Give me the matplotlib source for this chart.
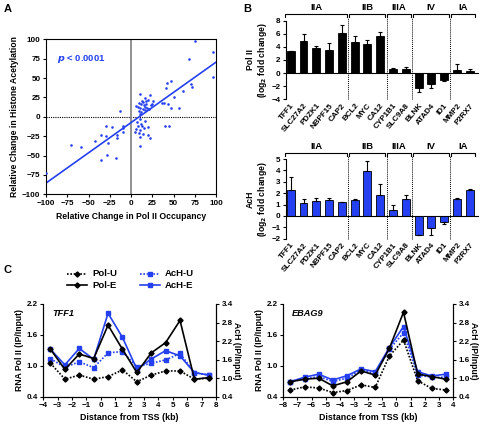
import matplotlib
matplotlib.use("Agg")
import matplotlib.pyplot as plt
import matplotlib.transforms as mtransforms
import numpy as np

plt.rcParams["font.family"] = ["Liberation Sans", "DejaVu Sans"]
plt.rcParams["font.weight"] = "bold"
plt.rcParams["axes.labelweight"] = "bold"
plt.rcParams["mathtext.default"] = "bf"

BLUE = "#2440f0"
W, H = 480, 424

# ---- panel A data: relative change (%) ----
polii_change = [75, 96, 97, 68, 70, 72, 61, 51, 42, 47, 41, 37, 39, 43, 47, 56, 40, 45,
                10, 16, 22, 13, 18, 20, 9, 12, 15, 17, 8, 11, 14, 19, 23, 25, 9, 12, 16, 21, 26, 6, 14, 18, 10,
                10, 7, 12, 8, 13, 6, 10, 15, 20, 9, 14, 20, 22, 11, 5, 16, 11,
                -13, -100, -71, -59, -42, -35, -29, -27, -30, -22, -17, -16, -10, -9, -9, -35, -28, -18]
ach_change = [98, 83, 51, 75, 42, 39, 33, 25, 44, 46, 37, 18, 18, 17, 12, 12, -12, -12,
              29, 24, 28, 21, 20, 22, 18, 16, 15, 13, 13, 11, 10, 12, 15, 17, 8, 6, 9, 10, 20, 14, 19, 16, 3,
              -3, -7, -9, -12, -12, -16, -17, -15, -13, -21, -22, -23, -27, -38, -20, -6, -26,
              8, -73, -37, -39, -31, -23, -25, -34, -12, -13, -24, -27, -12, -15, -20, -56, -49, -53]
fit_slope = 0.78
fit_intercept = -7.5

# ---- panel B data: log2 fold change ----
genes = ["TFF1", "SLC27A2", "PDZK1", "NBPF15", "CAP2", "BCL2", "MYC", "CA12",
         "CYP1B1", "SLC9A8", "BLNK", "ATAD4", "ID1", "MMP2", "P2RX7"]
groups = ["IIA", "IIB", "IIIA", "IV", "IA"]
group_sizes = [5, 3, 2, 3, 2]
pol_fc = [3.3, 4.9, 3.8, 3.6, 6.1, 4.8, 4.5, 5.7, 0.6, 0.7, -2.3, -1.7, -1.1, 0.5, 0.3]
pol_err = [0.1, 1.0, 0.3, 1.0, 1.3, 0.9, 0.5, 0.6, 0.15, 0.2, 0.6, 0.5, 0.1, 0.9, 0.25]
ach_fc = [2.3, 1.1, 1.35, 1.4, 1.2, 1.4, 3.95, 1.8, 0.55, 1.5, -1.65, -1.1, -0.55, 1.45, 2.3]
ach_err = [1.1, 0.35, 0.25, 0.2, 0.05, 0.1, 0.85, 1.0, 0.4, 0.35, 0.05, 0.6, 0.15, 0.1, 0.05]

# ---- panel C data: IP/Input along the gene ----
tff1_kb = [-3.5, -2.5, -1.5, -0.5, 0.5, 1.5, 2.5, 3.5, 4.5, 5.5, 6.5, 7.5]
tff1_pol_u = [1.05, 0.74, 0.82, 0.74, 0.79, 0.92, 0.69, 0.82, 0.90, 0.90, 0.74, 0.76]
tff1_pol_e = [1.32, 0.93, 1.23, 1.14, 1.79, 1.32, 0.87, 1.25, 1.45, 1.88, 0.74, 0.77]
tff1_ach_u = [1.63, 1.35, 1.53, 1.34, 1.82, 1.86, 1.37, 1.48, 1.59, 1.80, 1.18, 1.10]
tff1_ach_e = [1.93, 1.43, 1.96, 1.61, 3.10, 2.32, 1.29, 1.62, 1.89, 1.72, 1.18, 1.10]

ebag9_kb = [-7.5, -6.5, -5.5, -4.5, -3.5, -2.5, -1.5, -0.5, 0.5, 1.5, 2.5, 3.5]
ebag9_pol_u = [0.53, 0.59, 0.57, 0.48, 0.52, 0.63, 0.58, 1.19, 1.50, 0.71, 0.56, 0.53]
ebag9_pol_e = [0.69, 0.74, 0.76, 0.61, 0.69, 0.90, 0.82, 1.34, 2.04, 0.84, 0.79, 0.74]
ebag9_ach_u = [0.89, 0.97, 1.05, 0.89, 1.00, 1.26, 1.16, 1.93, 2.47, 1.10, 1.03, 1.03]
ebag9_ach_e = [0.89, 1.03, 1.13, 0.94, 1.08, 1.30, 1.21, 1.99, 2.67, 1.21, 1.07, 1.13]

FS = 5.8


def ax_px(fig, left, top, right, bottom):
    return fig.add_axes([left / W, 1 - bottom / H, (right - left) / W, (bottom - top) / H])


def style_ticks(ax):
    ax.tick_params(labelsize=FS, width=0.8, length=2.5, pad=1.5)
    for lab in ax.get_xticklabels() + ax.get_yticklabels():
        lab.set_fontweight("bold")


fig = plt.figure(figsize=(W / 100, H / 100), dpi=100)

# ================= Panel A =================
axA = ax_px(fig, 46, 39.3, 216, 194.3)
axA.scatter(polii_change, ach_change, s=3.5, color=BLUE, linewidths=0, zorder=3)
xs = np.array([-100, 100])
axA.plot(xs, fit_slope * xs + fit_intercept, color=BLUE, lw=1.2, zorder=2)
axA.axhline(0, color="black", lw=0.8, ls=(0, (1, 1)), zorder=1)
axA.axvline(0, color="#888888", lw=1.3, zorder=1)
axA.set_xlim(-100, 100)
axA.set_ylim(-100, 100)
axA.set_xticks(np.arange(-100, 101, 25))
axA.set_yticks(np.arange(-100, 101, 25))
for s in axA.spines.values():
    s.set_linewidth(0.8)
style_ticks(axA)
axA.set_xlabel("Relative Change in Pol II Occupancy", fontsize=FS + 0.4, labelpad=4)
axA.set_ylabel("Relative Change in Histone Acetylation", fontsize=FS + 0.4, labelpad=2)
axA.text(-87, 75, r"$\mathbf{\it{p}}$ < 0.0001", color=BLUE, fontsize=FS + 1, va="center",
         fontweight="bold")
fig.text(4 / W, 1 - 9 / H, "A", fontsize=8, fontweight="bold", va="center")

# ================= Panel B =================
x = np.arange(len(genes))
bounds = np.cumsum([0] + group_sizes)


def bar_panel(ax, vals, errs, color, ylim, yticks, ylab, br_y, br_tick, lab_y):
    lower = [e if v < 0 else 0 for v, e in zip(vals, errs)]
    upper = [e if v >= 0 else 0 for v, e in zip(vals, errs)]
    ax.bar(x, vals, width=0.62, color=color, edgecolor="black", linewidth=0.6,
           yerr=[lower, upper], error_kw=dict(ecolor="black", elinewidth=0.8, capsize=1.6,
                                              capthick=0.8), zorder=2)
    ax.axhline(0, color="black", lw=0.8, zorder=3)
    ax.set_xlim(-0.37, 14.73)
    ax.set_ylim(*ylim)
    ax.set_yticks(yticks)
    ax.set_xticks(x)
    ax.set_xticklabels(genes, rotation=50, ha="right", rotation_mode="anchor", fontsize=FS - 0.3)
    for side in ["top", "right", "bottom"]:
        ax.spines[side].set_visible(False)
    ax.spines["left"].set_linewidth(0.8)
    style_ticks(ax)
    ax.tick_params(axis="x", length=0, pad=2)
    ax.set_ylabel(ylab, fontsize=FS + 0.4, labelpad=2, linespacing=1.1)
    trans = mtransforms.blended_transform_factory(ax.transData, ax.transAxes)
    for b in bounds[1:-1]:
        ax.plot([b - 0.5, b - 0.5], [0, 1.04], transform=trans, color="black", lw=0.7,
                ls=(0, (1, 1)), clip_on=False, zorder=1)
    for g, a0, a1 in zip(groups, bounds[:-1], bounds[1:]):
        left, right = a0 - 0.45, a1 - 1 + 0.4
        ax.plot([left, left, right, right], [br_tick, br_y, br_y, br_tick], transform=trans,
                color="black", lw=0.8, clip_on=False)
        ax.text((left + right) / 2, lab_y, g, transform=trans, ha="center", va="center",
                fontsize=FS + 1, fontweight="bold")


axB1 = ax_px(fig, 286, 20.7, 479, 99.3)
bar_panel(axB1, pol_fc, pol_err, "black", (-4, 8), np.arange(-4, 9, 2),
          "Pol II\n(log$_2$ fold change)", 1.085, 1.045, 1.17)
axB2 = ax_px(fig, 286, 159, 479, 238.7)
bar_panel(axB2, ach_fc, ach_err, BLUE, (-2, 5), np.arange(-2, 6, 1),
          "AcH\n(log$_2$ fold change)", 1.071, 1.035, 1.16)
fig.text(243 / W, 1 - 9 / H, "B", fontsize=8, fontweight="bold", va="center")

# ================= Panel C =================
fig.text(4 / W, 1 - 270 / H, "C", fontsize=8, fontweight="bold", va="center")


def profile(ax, kb, pol_u, pol_e, ach_u, ach_e, xlim, gene):
    ax2 = ax.twinx()
    ax.plot(kb, pol_u, color="black", ls=(0, (1, 1)), lw=1.2, marker="D", ms=2.6, zorder=3)
    ax.plot(kb, pol_e, color="black", lw=1.2, marker="D", ms=2.6, zorder=3)
    ax2.plot(kb, ach_u, color=BLUE, ls=(0, (1, 1)), lw=1.2, marker="s", ms=3.2, zorder=2)
    ax2.plot(kb, ach_e, color=BLUE, lw=1.2, marker="s", ms=3.2, zorder=2)
    ax.set_zorder(ax2.get_zorder() + 1)
    ax.patch.set_visible(False)
    ax.set_xlim(*xlim)
    ax.set_xticks(np.arange(xlim[0], xlim[1] + 1, 1))
    ax.set_ylim(0.4, 2.2)
    ax.set_yticks([0.4, 1.0, 1.6, 2.2])
    ax2.set_ylim(0.4, 3.4)
    ax2.set_yticks([0.4, 1.0, 1.6, 2.2, 2.8, 3.4])
    for a in (ax, ax2):
        a.spines["top"].set_visible(False)
        for s in a.spines.values():
            s.set_linewidth(0.8)
        style_ticks(a)
    ax.set_ylabel("RNA Pol II (IP/Input)", fontsize=FS + 0.4, labelpad=2)
    ax2.set_ylabel("AcH (IP/Input)", fontsize=FS + 0.4, rotation=270, labelpad=6)
    ax.set_xlabel("Distance from TSS (kb)", fontsize=FS + 0.6, labelpad=3)
    ax.text(0.05, 0.9, gene, transform=ax.transAxes, fontsize=FS + 0.8, style="italic",
            fontweight="bold", va="center")


axC1 = ax_px(fig, 43.3, 304, 216, 396.7)
profile(axC1, tff1_kb, tff1_pol_u, tff1_pol_e, tff1_ach_u, tff1_ach_e, (-4, 8), "TFF1")
axC2 = ax_px(fig, 283.3, 304, 453, 396.7)
profile(axC2, ebag9_kb, ebag9_pol_u, ebag9_pol_e, ebag9_ach_u, ebag9_ach_e, (-8, 4), "EBAG9")

# legend
legend_items = [("Pol-U", "black", (0, (1, 1)), "D", 2.6, 274, 67),
                ("AcH-U", BLUE, (0, (1, 1)), "s", 3.2, 274, 140),
                ("Pol-E", "black", "-", "D", 2.6, 285, 67),
                ("AcH-E", BLUE, "-", "s", 3.2, 285, 140)]
for label, col, ls, mk, ms, ypx, xpx in legend_items:
    yy = 1 - ypx / H
    fig.add_artist(plt.Line2D([xpx / W, (xpx + 20) / W], [yy, yy], color=col, ls=ls, lw=1.2,
                              transform=fig.transFigure))
    fig.add_artist(plt.Line2D([(xpx + 10) / W], [yy], color=col, marker=mk, ms=ms,
                              transform=fig.transFigure))
    fig.text((xpx + 25) / W, yy, label, fontsize=FS + 1, fontweight="bold", va="center")

fig.savefig("out.png", dpi=100)
